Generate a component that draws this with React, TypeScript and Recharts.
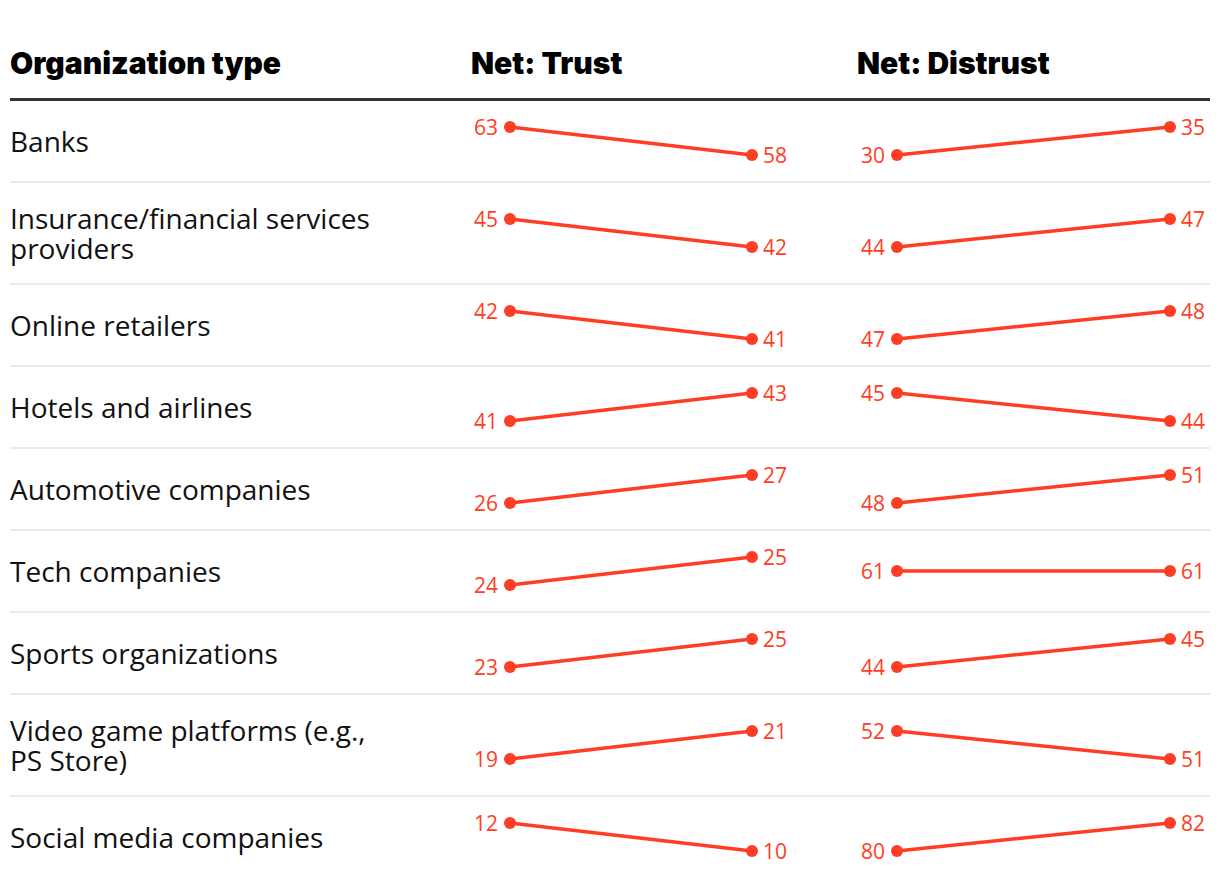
import React from 'react';
import { LineChart, Line, XAxis, YAxis } from 'recharts';

const ORGS = [
  'Banks',
  'Insurance/financial services providers',
  'Online retailers',
  'Hotels and airlines',
  'Automotive companies',
  'Tech companies',
  'Sports organizations',
  'Video game platforms (e.g., PS Store)',
  'Social media companies',
];
const TRUST_BEFORE = [63, 45, 42, 41, 26, 24, 23, 19, 12];
const TRUST_AFTER = [58, 42, 41, 43, 27, 25, 25, 21, 10];
const DISTRUST_BEFORE = [30, 44, 47, 45, 48, 61, 44, 52, 80];
const DISTRUST_AFTER = [35, 47, 48, 44, 51, 61, 45, 51, 82];
const HEADERS = ['Organization type', 'Net: Trust', 'Net: Distrust'];

const RED = '#ff3d24';
const LABEL_FONT = '"Open Sans", Roboto, sans-serif';
const HEAD_FONT = 'Inter, Roboto, sans-serif';

// higher value sits on top, lower on bottom, ties in the middle
const pairDomain = ([lo, hi]: [number, number]): [number, number] =>
  lo === hi ? [lo - 1, hi + 1] : [lo, hi];

const SlopeDot = (props: any) => {
  const { cx, cy, index, value } = props;
  const v = Array.isArray(value) ? value[1] : value;
  const first = index === 0;
  return (
    <g>
      <circle cx={cx} cy={cy} r={6} fill={RED} />
      <text
        x={first ? cx - 12 : cx + 11}
        y={cy}
        textAnchor={first ? 'end' : 'start'}
        dominantBaseline="central"
        fill={RED}
        fontSize={21}
        fontFamily={LABEL_FONT}
      >
        {v}
      </text>
    </g>
  );
};

const Slope: React.FC<{ a: number; b: number; width: number; left: number; right: number }> = ({
  a,
  b,
  width,
  left,
  right,
}) => {
  const data = [
    { k: 0, v: a },
    { k: 1, v: b },
  ];
  return (
    <LineChart width={width} height={80} data={data} margin={{ top: 26, bottom: 26, left, right }}>
      <XAxis dataKey="k" type="number" domain={[0, 1]} hide />
      <YAxis domain={pairDomain} allowDataOverflow hide />
      <Line
        dataKey="v"
        stroke={RED}
        strokeWidth={3.5}
        dot={<SlopeDot />}
        activeDot={false}
        isAnimationActive={false}
      />
    </LineChart>
  );
};

const App: React.FC = () => {
  return (
    <div style={{ marginLeft: 2, width: 1200, fontFamily: LABEL_FONT, color: '#111' }}>
      <style>{'.recharts-surface [clip-path]{clip-path:none !important;}'}</style>
      <div
        style={{
          position: 'relative',
          height: 90,
          borderBottom: '3px solid #333',
          fontFamily: HEAD_FONT,
          fontWeight: 900,
          fontSize: 30,
          lineHeight: '34px',
          color: '#000',
        }}
      >
        <div style={{ position: 'absolute', left: 0, top: 38 }}>{HEADERS[0]}</div>
        <div style={{ position: 'absolute', left: 461, top: 38 }}>{HEADERS[1]}</div>
        <div style={{ position: 'absolute', left: 847, top: 38 }}>{HEADERS[2]}</div>
      </div>
      {ORGS.map((org, i) => (
        <div
          key={org}
          style={{
            display: 'flex',
            alignItems: 'center',
            minHeight: 80,
            borderBottom: i < ORGS.length - 1 ? '2px solid #ebebeb' : 'none',
          }}
        >
          <div style={{ width: 385, marginRight: 65, fontSize: 28, lineHeight: '30px', padding: '20px 0' }}>
            {org}
          </div>
          <Slope a={TRUST_BEFORE[i]} b={TRUST_AFTER[i]} width={340} left={50} right={48} />
          <Slope a={DISTRUST_BEFORE[i]} b={DISTRUST_AFTER[i]} width={410} left={97} right={40} />
        </div>
      ))}
    </div>
  );
};

export default App;
